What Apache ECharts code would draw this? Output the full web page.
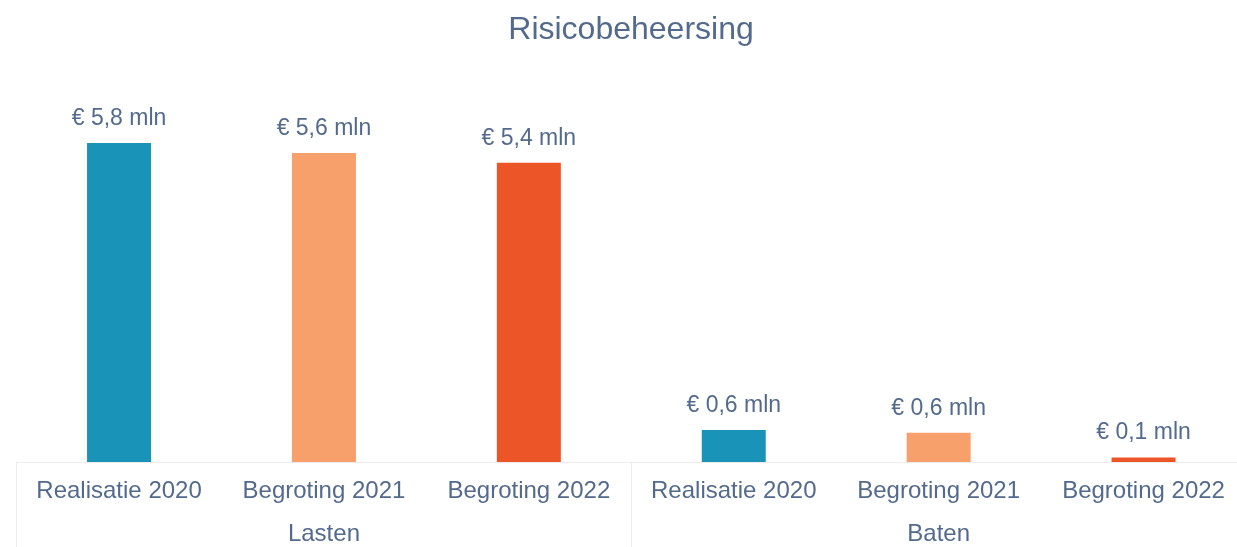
<!DOCTYPE html>
<html>
<head>
<meta charset="utf-8">
<script src="https://cdn.jsdelivr.net/npm/echarts@6/dist/echarts.min.js"></script>
<style>
html,body{margin:0;padding:0;background:#fff;overflow:hidden;}
#chart{width:1246px;height:547px;}
</style>
</head>
<body>
<div id="chart"></div>
<script>
var categories = ['Realisatie 2020', 'Begroting 2021', 'Begroting 2022', 'Realisatie 2020', 'Begroting 2021', 'Begroting 2022'];
var groups = ['Lasten', 'Baten'];
var values = [5.8, 5.62, 5.44, 0.58, 0.53, 0.08];
var valueLabels = ['€ 5,8 mln', '€ 5,6 mln', '€ 5,4 mln', '€ 0,6 mln', '€ 0,6 mln', '€ 0,1 mln'];
var barColors = ['#1a93b8', '#f8a06c', '#ec5527', '#1a93b8', '#f8a06c', '#ec5527'];

var textColor = '#536a8c';
var font = 'Liberation Sans, Arial, sans-serif';
var chart = echarts.init(document.getElementById('chart'));
chart.setOption({
  animation: false,
  backgroundColor: '#ffffff',
  title: {
    text: 'Risicobeheersing',
    left: 626,
    textAlign: 'center',
    top: 9,
    textStyle: {fontFamily: font, fontSize: 32, fontWeight: 'normal', color: textColor}
  },
  grid: {left: 16.6, right: 0, top: 22, bottom: 85, containLabel: false},
  xAxis: [{
    type: 'category',
    data: categories,
    position: 'bottom',
    axisLine: {show: true, lineStyle: {color: '#ececec', width: 1}},
    axisTick: {show: false},
    axisLabel: {interval: 0, margin: 17, fontFamily: font, fontSize: 24, color: textColor}
  }, {
    type: 'category',
    data: groups,
    position: 'bottom',
    axisLine: {show: false},
    axisTick: {show: true, length: 85, lineStyle: {color: '#ececec'}},
    axisLabel: {interval: 0, margin: 60, fontFamily: font, fontSize: 24, color: textColor}
  }],
  yAxis: {type: 'value', min: 0, max: 8, show: false, splitLine: {show: false}},
  series: [{
    type: 'bar',
    xAxisIndex: 0,
    barWidth: 64,
    data: values.map(function (v, i) {
      return {value: v, itemStyle: {color: barColors[i]}};
    }),
    label: {
      show: true,
      position: 'top',
      distance: 13,
      fontFamily: font,
      fontSize: 23,
      color: textColor,
      formatter: function (p) { return valueLabels[p.dataIndex]; }
    }
  }]
});
</script>
</body>
</html>
